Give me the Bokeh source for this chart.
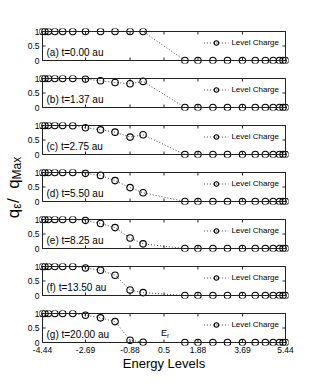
import math
from bokeh.plotting import figure
from bokeh.models import (Range1d, LinearAxis, FixedTicker, Label, BoxAnnotation,
                          Legend, LegendItem, ColumnDataSource)
from bokeh.layouts import row, column
from bokeh.embed import file_html
from bokeh.resources import INLINE

# ---------------- data ----------------
energy = [-4.44, -4.34, -4.20, -3.94, -3.62, -3.21, -2.69, -2.08, -1.49, -0.88, -0.35,
          1.35, 1.88, 2.49, 3.08, 3.69, 4.21, 4.62, 4.94, 5.20, 5.34, 5.44]

q_a = [1, 1, 1, 1, 1, 1, 1, 1, 1, 1, 1, 0, 0, 0, 0, 0, 0, 0, 0, 0, 0, 0]
q_b = [1, 1, 1, 1, 1, 1, 0.98, 0.92, 0.86, 0.82, 0.90, 0, 0, 0, 0, 0, 0, 0, 0, 0, 0, 0]
q_c = [1, 1, 1, 1, 1, 0.99, 0.92, 0.85, 0.77, 0.60, 0.68, 0, 0, 0, 0, 0, 0, 0, 0, 0, 0, 0]
q_d = [1, 1, 1, 1, 1, 1, 0.97, 0.90, 0.72, 0.48, 0.30, 0, 0, 0, 0, 0, 0, 0, 0, 0, 0, 0]
q_e = [1, 1, 1, 1, 1, 1, 0.97, 0.86, 0.72, 0.36, 0.16, 0, 0, 0, 0, 0, 0, 0, 0, 0, 0, 0]
q_f = [1, 1, 1, 1, 1, 1, 0.95, 0.87, 0.70, 0.19, 0.10, 0, 0, 0, 0, 0, 0, 0, 0, 0, 0, 0]
q_g = [1, 1, 1, 1, 1, 1, 0.94, 0.85, 0.72, 0.08, 0.01, 0, 0, 0, 0, 0, 0, 0, 0, 0, 0, 0]

panel_tags = ["(a)", "(b)", "(c)", "(d)", "(e)", "(f)", "(g)"]
times = ["0.00", "1.37", "2.75", "5.50", "8.25", "13.50", "20.00"]
series = [q_a, q_b, q_c, q_d, q_e, q_f, q_g]

xtick_vals = [-4.44, -2.69, -0.88, 0.5, 1.88, 3.69, 5.44]
xtick_labels = ["-4.44", "-2.69", "-0.88", "0.5", "1.88", "3.69", "5.44"]
ytick_vals = [0, 0.5, 1]
ytick_labels = ["0", "0.5", "1"]
fermi_level = 0.5

legend_label = "Level Charge"
x_title = "Energy Levels"

# ---------------- style ----------------
FONT = "Liberation Sans"
BOX_W, BOX_H, PAD = 243, 29, 3
TICK = 3
FRAME_COLOR = "#222222"
xmin, xmax = min(energy), max(energy)
dpp = (xmax - xmin) / BOX_W
xpad = dpp * PAD
ypad = PAD / BOX_H
LEFT_B, RIGHT_B = 13, 12
LAB_W = 24
TOP_FIRST, GAP_HALF, BOTTOM_LAST = 28, 6, 28
FRAME_H = BOX_H + 2 * PAD


def make_panel(i, q, last):
    top = TOP_FIRST if i == 0 else GAP_HALF
    bottom = BOTTOM_LAST if last else GAP_HALF
    p = figure(frame_width=BOX_W + 2 * PAD, frame_height=FRAME_H,
               min_border_left=LEFT_B, min_border_right=RIGHT_B,
               min_border_top=top, min_border_bottom=bottom,
               x_range=Range1d(xmin - xpad, xmax + xpad),
               y_range=Range1d(-ypad, 1 + ypad),
               x_axis_location=None, y_axis_location=None,
               output_backend="svg", toolbar_location=None)
    p.grid.visible = False
    p.outline_line_color = None

    yl = LinearAxis(ticker=FixedTicker(ticks=ytick_vals),
                    major_label_overrides=dict(zip(ytick_vals, ytick_labels)))
    yl.axis_line_color = None
    yl.major_tick_line_color = None
    yl.minor_tick_line_color = None
    yl.major_tick_in = 0
    yl.major_tick_out = 0
    yl.major_label_standoff = 0
    yl.major_label_text_font = FONT
    yl.major_label_text_font_size = "8.5px"
    yl.major_label_text_color = "black"
    p.add_layout(yl, "left")

    if last:
        xb = LinearAxis(ticker=FixedTicker(ticks=xtick_vals),
                        major_label_overrides=dict(zip(xtick_vals, xtick_labels)))
        xb.axis_line_color = None
        xb.major_tick_line_color = None
        xb.minor_tick_line_color = None
        xb.major_tick_in = 0
        xb.major_tick_out = 0
        xb.major_label_standoff = 1
        xb.major_label_text_font = FONT
        xb.major_label_text_font_size = "8.5px"
        xb.major_label_text_color = "black"
        xb.axis_label = x_title
        xb.axis_label_text_font = FONT
        xb.axis_label_text_font_size = "13px"
        xb.axis_label_text_font_style = "normal"
        xb.axis_label_text_color = "black"
        xb.axis_label_standoff = 0
        p.add_layout(xb, "below")

    # box (the axes' frame) at the data limits
    p.add_layout(BoxAnnotation(left=xmin, right=xmax, bottom=0, top=1,
                               fill_alpha=0, line_color=FRAME_COLOR, line_alpha=1,
                               line_width=1))

    # inward tick marks on all four sides, from the tick lists
    tx = TICK * dpp
    ty = TICK / BOX_H
    nx, ny = len(xtick_vals), len(ytick_vals)
    p.segment(x0=xtick_vals, y0=[0] * nx, x1=xtick_vals, y1=[ty] * nx,
              line_color=FRAME_COLOR, line_width=1)
    p.segment(x0=xtick_vals, y0=[1] * nx, x1=xtick_vals, y1=[1 - ty] * nx,
              line_color=FRAME_COLOR, line_width=1)
    p.segment(x0=[xmin] * ny, y0=ytick_vals, x1=[xmin + tx] * ny, y1=ytick_vals,
              line_color=FRAME_COLOR, line_width=1)
    p.segment(x0=[xmax] * ny, y0=ytick_vals, x1=[xmax - tx] * ny, y1=ytick_vals,
              line_color=FRAME_COLOR, line_width=1)

    src = ColumnDataSource(dict(x=energy, y=q))
    r_line = p.line("x", "y", source=src, line_dash="1 2", line_color="#444444",
                    line_width=1)
    r_pts = p.scatter("x", "y", source=src, marker="circle", size=6.5,
                      fill_color=None, line_color="black", line_width=1.1)

    leg = Legend(items=[LegendItem(label=legend_label, renderers=[r_line, r_pts])],
                 location="top_right", label_text_font=FONT,
                 label_text_font_size="8px", label_text_color="black",
                 label_height=11, glyph_height=11, glyph_width=25,
                 label_standoff=3, padding=0, margin=9, spacing=0,
                 border_line_color=None, background_fill_alpha=0)
    p.add_layout(leg)

    p.add_layout(Label(x=xmin + 4 * dpp, y=0.27,
                       text=f"{panel_tags[i]} t={times[i]} au",
                       text_font=FONT, text_font_size="10px", text_color="black",
                       text_baseline="middle", text_align="left"))
    if last:
        p.add_layout(Label(x=fermi_level, y=0.34, text="E", x_offset=0,
                           text_font=FONT, text_font_size="9px", text_color="black",
                           text_baseline="middle", text_align="center"))
        p.add_layout(Label(x=fermi_level, y=0.22, text="f", x_offset=3,
                           text_font=FONT, text_font_size="6px", text_color="black",
                           text_baseline="middle", text_align="left"))
    return p


panels = [make_panel(i, q, i == len(series) - 1) for i, q in enumerate(series)]
total_h = (TOP_FIRST + FRAME_H + GAP_HALF) + (2 * GAP_HALF + FRAME_H) * 5 + \
          (GAP_HALF + FRAME_H + BOTTOM_LAST)

# y-axis title figure: q_eps / q_Max
lab = figure(width=LAB_W, height=total_h, x_range=Range1d(0, LAB_W),
             y_range=Range1d(0, total_h), min_border=0,
             x_axis_location=None, y_axis_location=None,
             output_backend="svg", toolbar_location=None)
lab.grid.visible = False
lab.outline_line_color = None

F, f = 17, 12
pieces = [("q", F, 0.556 * F), ("\u03b5", f, 0.48 * f), (" / ", F, 0.834 * F),
          ("q", F, 0.556 * F), ("Max", f, 1.889 * f)]
total_len = sum(w for _, _, w in pieces)
center_y = total_h - 187
yy = center_y - total_len / 2
for txt, size, w in pieces:
    bx = 12.5 if size == F else 16
    lab.add_layout(Label(x=bx, y=yy, text=txt, angle=math.pi / 2,
                         text_font=FONT, text_font_size=f"{size}px",
                         text_color="black", text_baseline="alphabetic",
                         text_align="left"))
    yy += w

layout = row(lab, column(*panels, spacing=0), spacing=0)
open("out.html", "w").write(file_html(layout, INLINE))
